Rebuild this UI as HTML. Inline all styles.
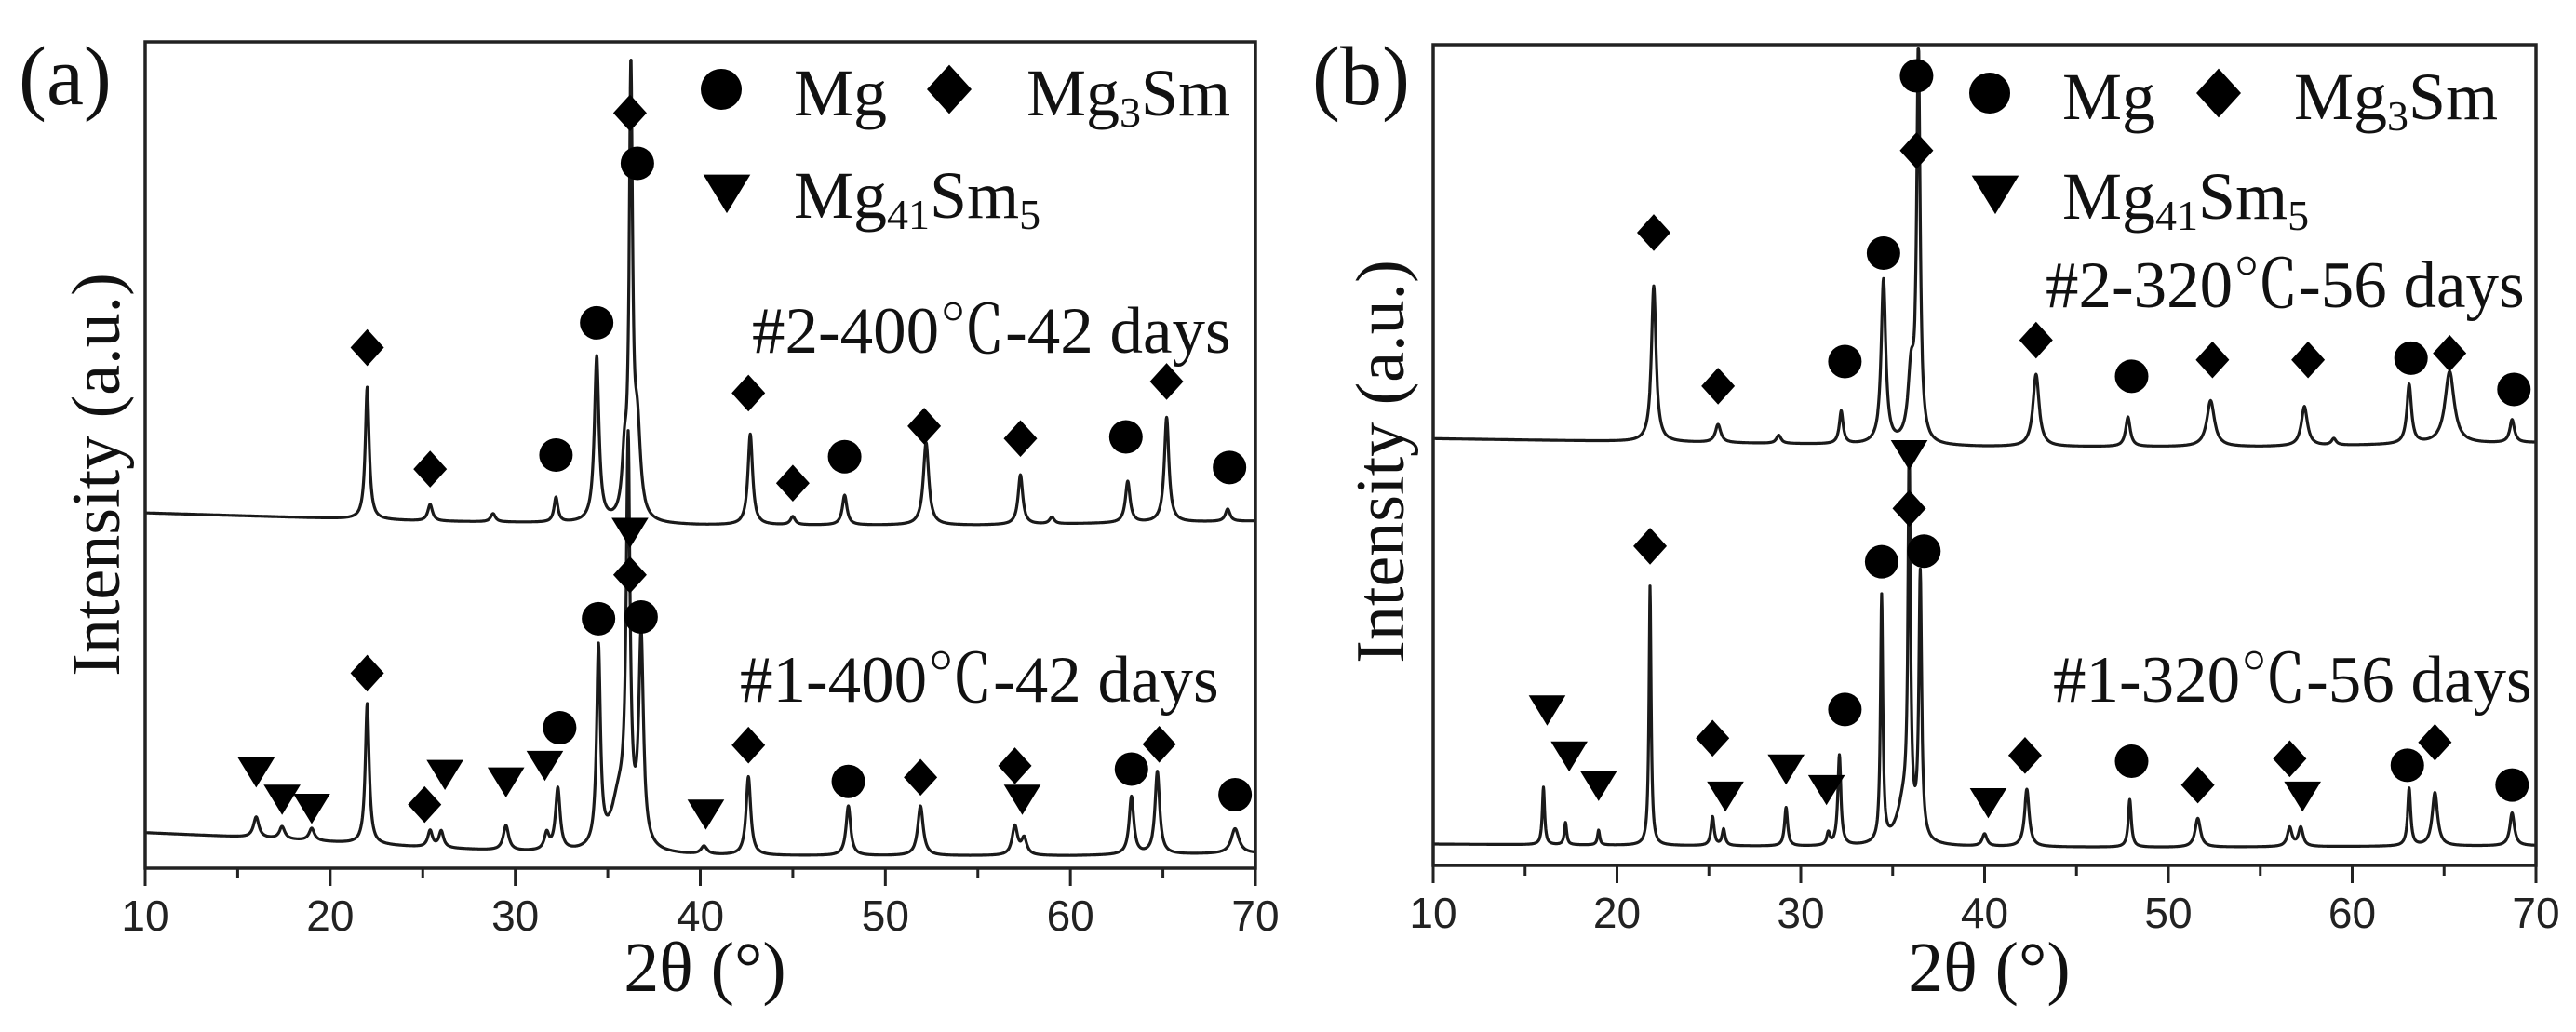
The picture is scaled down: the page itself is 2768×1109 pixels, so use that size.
<!DOCTYPE html>
<html><head><meta charset="utf-8"><style>
html,body{margin:0;padding:0;background:#fff;}
svg{display:block;}
.serif{font-family:"Liberation Serif","Noto Serif CJK SC",serif;fill:#111;}
.sans{font-family:"Liberation Sans",sans-serif;fill:#222;}
</style></head><body>
<svg id="chart" width="2768" height="1109" viewBox="0 0 2768 1109" xmlns="http://www.w3.org/2000/svg"></svg>
<script>
// ---------- data ----------
const xTicks = [10,20,30,40,50,60,70];
const xMinorTicks = [15,25,35,45,55,65];
// panel a, pattern #2 (400C)
const a2BaseX = [10,25,40,55,70];
const a2BaseY = [43,42,41.5,41.5,42];
const a2PeakPos = [22.0,25.4,28.8,32.2,34.4,35.9,36.25,36.6,42.7,45.0,47.8,52.2,57.3,59,63.1,65.2,68.5];
const a2PeakH   = [16,2,1,3,20,6,53,10,11,1,3.6,10,6,0.8,5,12.7,1.5];
const a2PeakW   = [0.25,0.3,0.3,0.25,0.3,0.3,0.22,0.4,0.3,0.3,0.3,0.35,0.3,0.3,0.3,0.3,0.3];
// panel a, pattern #1 (400C)
const a1BaseX = [10,15,25,30,40,60,70];
const a1BaseY = [4.3,3.8,2.5,2,1.5,1.5,1.8];
const a1PeakPos = [16.0,17.4,19.0,22.0,25.4,26.0,29.5,31.7,32.3,34.5,35.6,36.1,36.8,40.2,42.6,48.0,51.9,57.0,57.5,63.3,64.7,68.9];
const a1PeakH   = [2.5,1.5,1.5,17,2,2,3,2,7.5,24,6,47,25,1,9.5,6,6,3.5,2,7,10,3];
const a1PeakW   = [0.35,0.35,0.35,0.25,0.3,0.3,0.35,0.3,0.3,0.25,1.0,0.25,0.3,0.4,0.3,0.3,0.35,0.35,0.35,0.3,0.3,0.5];
// panel b, pattern #2 (320C)
const b2BaseX = [10,25,40,55,70];
const b2BaseY = [52,51.5,51,51,51.5];
const b2PeakPos = [22.0,25.5,28.8,32.2,34.5,36.0,36.4,42.8,47.8,52.3,57.4,59,63.1,65.3,68.7];
const b2PeakH   = [19,2.2,1,4,20,8,48,8.8,3.6,5.6,4.8,0.8,7.2,8.8,2.8];
const b2PeakW   = [0.3,0.35,0.3,0.25,0.3,0.4,0.22,0.4,0.3,0.5,0.4,0.3,0.3,0.6,0.3];
// panel b, pattern #1 (320C)
const b1BaseX = [10,30,50,70];
const b1BaseY = [2.6,2.3,2.2,2.4];
const b1PeakPos = [16.0,17.2,19.0,21.8,25.2,25.8,29.2,31.5,32.1,34.4,35.6,35.9,36.5,40.0,42.3,47.9,51.6,56.6,57.2,63.1,64.5,68.7];
const b1PeakH   = [7,2.7,1.8,31.6,3.5,2,4.7,1.5,11,30,5,45,32,1.5,7,5.8,3.5,2.3,2.3,7,6.5,4];
const b1PeakW   = [0.15,0.15,0.15,0.14,0.2,0.2,0.2,0.2,0.2,0.15,0.9,0.16,0.18,0.3,0.3,0.2,0.35,0.3,0.3,0.2,0.35,0.3];
// phase markers: kind c=Mg circle, d=Mg3Sm diamond, t=Mg41Sm5 triangle
const aMarkAngle = [22.0,25.4,32.2,34.4,36.2,36.6,42.6,45.0,47.8,52.1,57.3,63.0,65.2,68.6,
                    36.2,36.2,34.5,36.8,22.0,32.4,16.0,17.4,19.0,25.1,26.2,29.5,31.6,40.3,42.6,48.0,51.9,57.0,57.4,63.3,64.8,68.9];
const aMarkLevel = [63,48.3,50,66,91.4,85.3,57.5,46.6,49.8,53.5,52,52.2,58.9,48.5,
                    40.7,35.5,30.2,30.4,23.6,17,11.7,8.4,7.3,7.7,11.4,10.5,12.5,6.6,14.9,10.5,11,12.4,8.4,12,15,8.9];
const aMarkKind  = ['d','d','c','c','d','c','d','d','c','d','d','c','d','c',
                    't','d','c','c','d','c','t','t','t','d','t','t','t','t','d','c','d','d','t','c','d','c'];
const bMarkAngle = [36.3,36.3,22.0,34.5,25.5,32.4,42.8,48.0,52.4,57.6,63.2,65.3,68.8,
                    35.9,35.9,21.8,34.4,36.7,32.4,16.2,17.4,19.0,25.2,25.9,29.2,31.4,40.2,42.2,48.0,51.6,56.6,57.3,63.0,64.5,68.7];
const bMarkLevel = [96.2,87.1,77.1,74.6,58.4,61.4,64,59.6,61.6,61.6,61.8,62.4,58,
                    50.1,43.5,38.9,37,38.3,19,19,13.4,9.8,15.5,8.5,11.8,9.3,7.7,13.4,12.7,9.8,13,8.5,12.2,15,9.8];
const bMarkKind  = ['c','d','d','c','d','c','d','c','d','d','c','d','c',
                    't','d','d','c','c','c','t','t','t','d','t','t','t','t','d','c','d','d','t','c','d','c'];

// ---------- helpers ----------
const NS = 'http://www.w3.org/2000/svg';
const svg = document.getElementById('chart');
function mk(tag, attrs, parent){
  const e = document.createElementNS(NS, tag);
  for (const k in attrs) e.setAttribute(k, attrs[k]);
  (parent||svg).appendChild(e);
  return e;
}
function interp(xs, ys, x){
  if (x<=xs[0]) return ys[0];
  for (let i=1;i<xs.length;i++){
    if (x<=xs[i]){ const t=(x-xs[i-1])/(xs[i]-xs[i-1]); return ys[i-1]+t*(ys[i]-ys[i-1]); }
  }
  return ys[ys.length-1];
}
function profile(bx, by, pos, h, w, x){
  let v = interp(bx, by, x);
  for (let i=0;i<pos.length;i++){
    const d=(x-pos[i])/(w[i]/2);
    v += h[i]/(1+d*d);
  }
  return v;
}
function drawMarker(g, kind, cx, cy, s){
  let el;
  if (kind==='c'){
    el = mk('circle',{cx:cx,cy:cy,r:s/2,fill:'#000'},g);
    
  } else if (kind==='d'){
    el = mk('polygon',{points:`${cx},${cy-s*0.55} ${cx+s*0.5},${cy} ${cx},${cy+s*0.55} ${cx-s*0.5},${cy}`,fill:'#000'},g);
    
  } else {
    el = mk('polygon',{points:`${cx-s*0.55},${cy-s*0.42} ${cx+s*0.55},${cy-s*0.42} ${cx},${cy+s*0.48}`,fill:'#000'},g);
    
  }
  
}

function drawPanel(cfg){
  const g = mk('g',{});
  
  
  const L=cfg.left, R=cfg.right, T=cfg.top, B=cfg.bottom;
  const xs = v => L + (v-10)/60*(R-L);
  const ys = v => B - v/100*(B-T);

  cfg.patterns.forEach(p=>{
    let d='';
    for (let x=10; x<=70.0001; x+=0.02){
      const y = Math.max(0.3, Math.min(99.5, profile(p.bx,p.by,p.pos,p.h,p.w,x)));
      d += (d?'L':'M') + xs(x).toFixed(1)+','+ys(y).toFixed(1);
    }
    const path = mk('path',{d:d,fill:'none',stroke:'#1a1a1a','stroke-width':3.2,'stroke-linejoin':'round'},g);
    
    
  });

  const mg = mk('g',{},g);
  
  
  for (let i=0;i<cfg.mAngle.length;i++){
    drawMarker(mg, cfg.mKind[i], xs(cfg.mAngle[i]), ys(cfg.mLevel[i]), 36);
  }

  const fr = mk('rect',{x:L,y:T,width:R-L,height:B-T,fill:'none',stroke:'#222','stroke-width':3.5},g);
  
  

  xTicks.forEach(t=>{
    const tk = mk('line',{x1:xs(t),x2:xs(t),y1:B,y2:B+19,stroke:'#222','stroke-width':3},g);
    
    
    const lb = mk('text',{x:xs(t),y:B+67,'text-anchor':'middle','font-size':46,class:'sans'},g);
    lb.textContent = t;
    
    
  });
  xMinorTicks.forEach(t=>{
    const tk = mk('line',{x1:xs(t),x2:xs(t),y1:B,y2:B+11,stroke:'#222','stroke-width':3},g);
    
    
  });

  const xt = mk('text',{x:(L+R)/2+5,y:1065,'text-anchor':'middle','font-size':76,class:'serif'},g);
  xt.textContent = '2θ (°)';
  
  
  const yt = mk('text',{x:0,y:0,'text-anchor':'middle','font-size':74,class:'serif',transform:`translate(${cfg.ylx},${cfg.yly}) rotate(-90)`},g);
  yt.textContent = 'Intensity (a.u.)';
  
  

  const pl = mk('text',{x:cfg.letterX,y:112,'font-size':90,class:'serif'},g);
  pl.textContent = cfg.letter;
  
  

  const lg = mk('g',{},g);
  
  
  const lz = cfg.legend;
  drawMarker(lg,'c',lz.cX,lz.row1,44);
  drawMarker(lg,'d',lz.dX,lz.row1,48);
  drawMarker(lg,'t',lz.tX,lz.row2,46);
  const t1 = mk('text',{x:lz.mgX,y:lz.row1+28,'font-size':72,class:'serif'},lg);
  t1.textContent='Mg';
  
  
  const t2 = mk('text',{x:lz.m3X,y:lz.row1+28,'font-size':72,class:'serif'},lg);
  t2.innerHTML='Mg<tspan font-size="46" dy="12">3</tspan><tspan dy="-12">Sm</tspan>';
  
  
  const t3 = mk('text',{x:lz.mgX,y:lz.row2+27,'font-size':72,class:'serif'},lg);
  t3.innerHTML='Mg<tspan font-size="46" dy="12">41</tspan><tspan dy="-12">Sm</tspan><tspan font-size="46" dy="12">5</tspan>';
  
  

  cfg.labels.forEach(l=>{
    const tl = mk('text',{x:l.x,y:l.y,'font-size':71,class:'serif'},g);
    tl.textContent = l.text;
    
    
  });
}

drawPanel({
  name:'panel-a', letter:'(a)', letterX:20,
  left:156, right:1349, top:45, bottom:933, ylx:128, yly:510,
  patterns:[
    {name:'trace-a-2-400c', bx:a2BaseX, by:a2BaseY, pos:a2PeakPos, h:a2PeakH, w:a2PeakW},
    {name:'trace-a-1-400c', bx:a1BaseX, by:a1BaseY, pos:a1PeakPos, h:a1PeakH, w:a1PeakW}
  ],
  mAngle:aMarkAngle, mLevel:aMarkLevel, mKind:aMarkKind,
  legend:{cX:775,dX:1020,tX:781,row1:96,row2:207,mgX:853,m3X:1103},
  labels:[{x:808,y:379,text:'#2-400℃-42 days'},{x:795,y:754,text:'#1-400℃-42 days'}]
});
drawPanel({
  name:'panel-b', letter:'(b)', letterX:1410,
  left:1540, right:2725, top:48, bottom:930, ylx:1508, yly:496,
  patterns:[
    {name:'trace-b-2-320c', bx:b2BaseX, by:b2BaseY, pos:b2PeakPos, h:b2PeakH, w:b2PeakW},
    {name:'trace-b-1-320c', bx:b1BaseX, by:b1BaseY, pos:b1PeakPos, h:b1PeakH, w:b1PeakW}
  ],
  mAngle:bMarkAngle, mLevel:bMarkLevel, mKind:bMarkKind,
  legend:{cX:2138,dX:2384,tX:2144,row1:100,row2:208,mgX:2216,m3X:2465},
  labels:[{x:2198,y:330,text:'#2-320℃-56 days'},{x:2206,y:754,text:'#1-320℃-56 days'}]
});
</script>
</body></html>
